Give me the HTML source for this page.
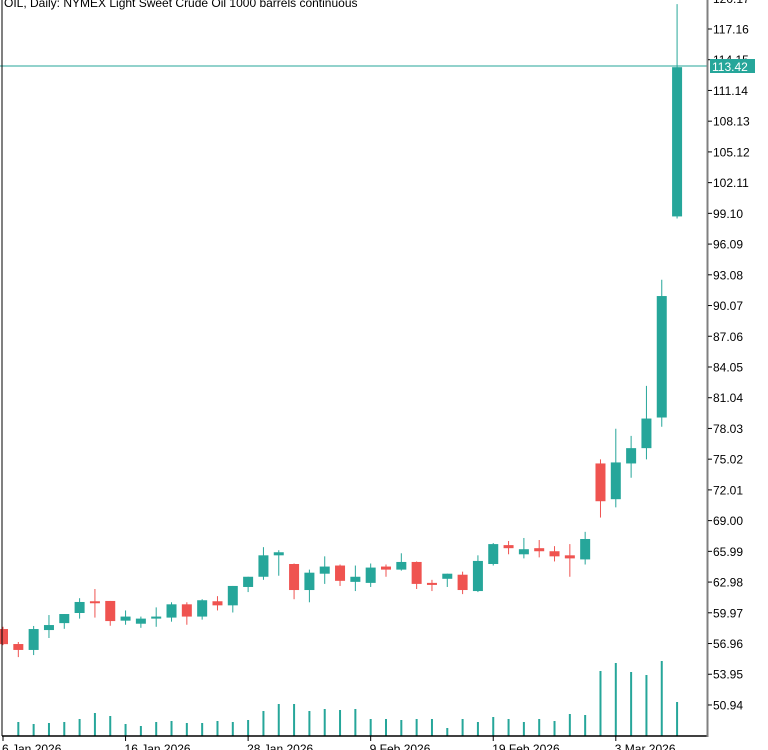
<!DOCTYPE html>
<html><head><meta charset="utf-8"><style>
html,body{margin:0;padding:0;background:#fff;width:768px;height:750px;overflow:hidden}
svg{display:block;font-family:"Liberation Sans","DejaVu Sans",sans-serif}
</style></head><body>
<svg id="chart" width="768" height="750">
<text x="4" y="7" font-size="12" fill="#000">OIL, Daily:  NYMEX Light Sweet Crude Oil 1000 barrels continuous</text>
<g id="vol"></g>
<g id="candles"></g>
<line x1="0" y1="66" x2="708" y2="66" stroke="#26a69a" stroke-width="1"/>
<line x1="2" y1="0" x2="2" y2="736" stroke="#000" stroke-width="1"/>
<line x1="2" y1="736" x2="708" y2="736" stroke="#000" stroke-width="1.5"/>
<line x1="707.5" y1="0" x2="707.5" y2="737" stroke="#808080" stroke-width="2"/>
<g id="yticks"></g>
<g id="xticks"></g>
<rect x="710" y="59" width="45" height="14" fill="#26a69a"/>
<text x="712" y="71" font-size="12" fill="#fff">113.42</text>
</svg>
<script>
const opens  = [58.38,56.91,56.33,58.28,58.96,59.95,61.1,61.13,59.2,58.9,59.4,59.5,60.8,59.6,61.1,60.7,62.5,63.5,65.6,64.75,62.2,63.8,64.6,63.0,62.9,64.5,64.2,64.95,62.9,63.3,63.7,62.1,64.75,66.6,65.7,66.3,66.0,65.6,65.2,74.6,71.1,74.6,76.1,79.1,98.8];
const highs  = [58.6,57.11,58.68,59.75,59.85,61.4,62.3,61.13,60.2,59.6,60.5,61.0,61.0,61.3,61.6,62.6,63.5,66.4,66.1,64.8,64.2,65.5,64.7,64.6,64.8,64.7,65.8,65.0,63.2,63.8,64.0,65.6,66.8,67.0,67.3,67.1,66.5,66.7,67.9,75.0,78.0,77.3,82.2,92.6,119.6];
const lows   = [56.8,55.63,55.83,57.5,58.4,59.4,59.5,58.7,58.8,58.5,58.6,59.1,58.8,59.3,60.2,60.0,62.0,63.2,63.6,61.3,61.0,62.8,62.6,62.1,62.5,63.5,64.1,62.3,62.1,62.5,61.8,62.0,64.6,65.7,65.3,65.4,65.0,63.5,64.7,69.3,70.3,73.2,75.0,78.2,98.6];
const closes = [56.9,56.33,58.38,58.77,59.85,61.03,61.0,59.16,59.6,59.4,59.6,60.8,59.6,61.2,60.7,62.6,63.5,65.6,65.9,62.2,63.9,64.5,63.1,63.5,64.4,64.2,64.95,62.8,62.7,63.8,62.2,65.05,66.7,66.3,66.2,66.0,65.5,65.3,67.2,70.9,74.7,76.1,79.0,91.0,113.42];
const volumes = [0,14,12,13,14,17,23,20,12,10,14,15,13,13,15,14,16,25,32,32,25,27,26,27,17,17,16,17,17,8,17,14,19,17,14,17,15,22,21,65,73,64,61,75,34];
const yTickLabels = ["120.17","117.16","114.15","111.14","108.13","105.12","102.11","99.10","96.09","93.08","90.07","87.06","84.05","81.04","78.03","75.02","72.01","69.00","65.99","62.98","59.97","56.96","53.95","50.94"];
const xTickLabels = ["6 Jan 2026","16 Jan 2026","28 Jan 2026","9 Feb 2026","19 Feb 2026","3 Mar 2026"];
const xTickIndex = [0,8,16,24,32,40];

const NS="http://www.w3.org/2000/svg";
const yScale = v => 29 + (117.16 - v) * 10.208;
const xScale = i => 3 + i * 15.32;
const volScale = v => 736 - v;
const GREEN="#26a69a", RED="#ef5350";
function mk(tag, attrs, parent){const e=document.createElementNS(NS,tag);for(const k in attrs)e.setAttribute(k,attrs[k]);parent.appendChild(e);return e;}

const cg=document.getElementById('candles');
for(let i=0;i<opens.length;i++){
  const x=xScale(i), up=closes[i]>=opens[i], col=up?GREEN:RED;
  const w=mk('line',{x1:x,x2:x,y1:yScale(highs[i]),y2:yScale(lows[i]),stroke:col,'stroke-width':1},cg);
  
  
  const top=yScale(Math.max(opens[i],closes[i])), bot=yScale(Math.min(opens[i],closes[i]));
  const b=mk('rect',{x:x-5,y:top,width:10,height:Math.max(2,bot-top),fill:col},cg);
  
  
}
const vg=document.getElementById('vol');
for(let i=0;i<volumes.length;i++){
  if(!volumes[i])continue;
  const x=xScale(i);
  const v=mk('rect',{x:x-1,y:volScale(volumes[i]),width:2,height:volumes[i],fill:GREEN},vg);
  
  
}
const yg=document.getElementById('yticks');
yTickLabels.forEach(l=>{
  const y=yScale(parseFloat(l));
  const t=mk('line',{x1:708,x2:712,y1:y,y2:y,stroke:'#000'},yg);
  
  
  const tx=mk('text',{x:713,y:y+4.5,'font-size':12,fill:'#000'},yg);
  tx.textContent=l;
  
  
});
const xg=document.getElementById('xticks');
xTickLabels.forEach((l,k)=>{
  const x=xScale(xTickIndex[k]);
  const t=mk('line',{x1:x,x2:x,y1:736,y2:741,stroke:'#000'},xg);
  
  
  const tx=mk('text',{x:x-1,y:753,'font-size':12,fill:'#000'},xg);
  tx.textContent=l;
  
  
});
</script>
</body></html>
